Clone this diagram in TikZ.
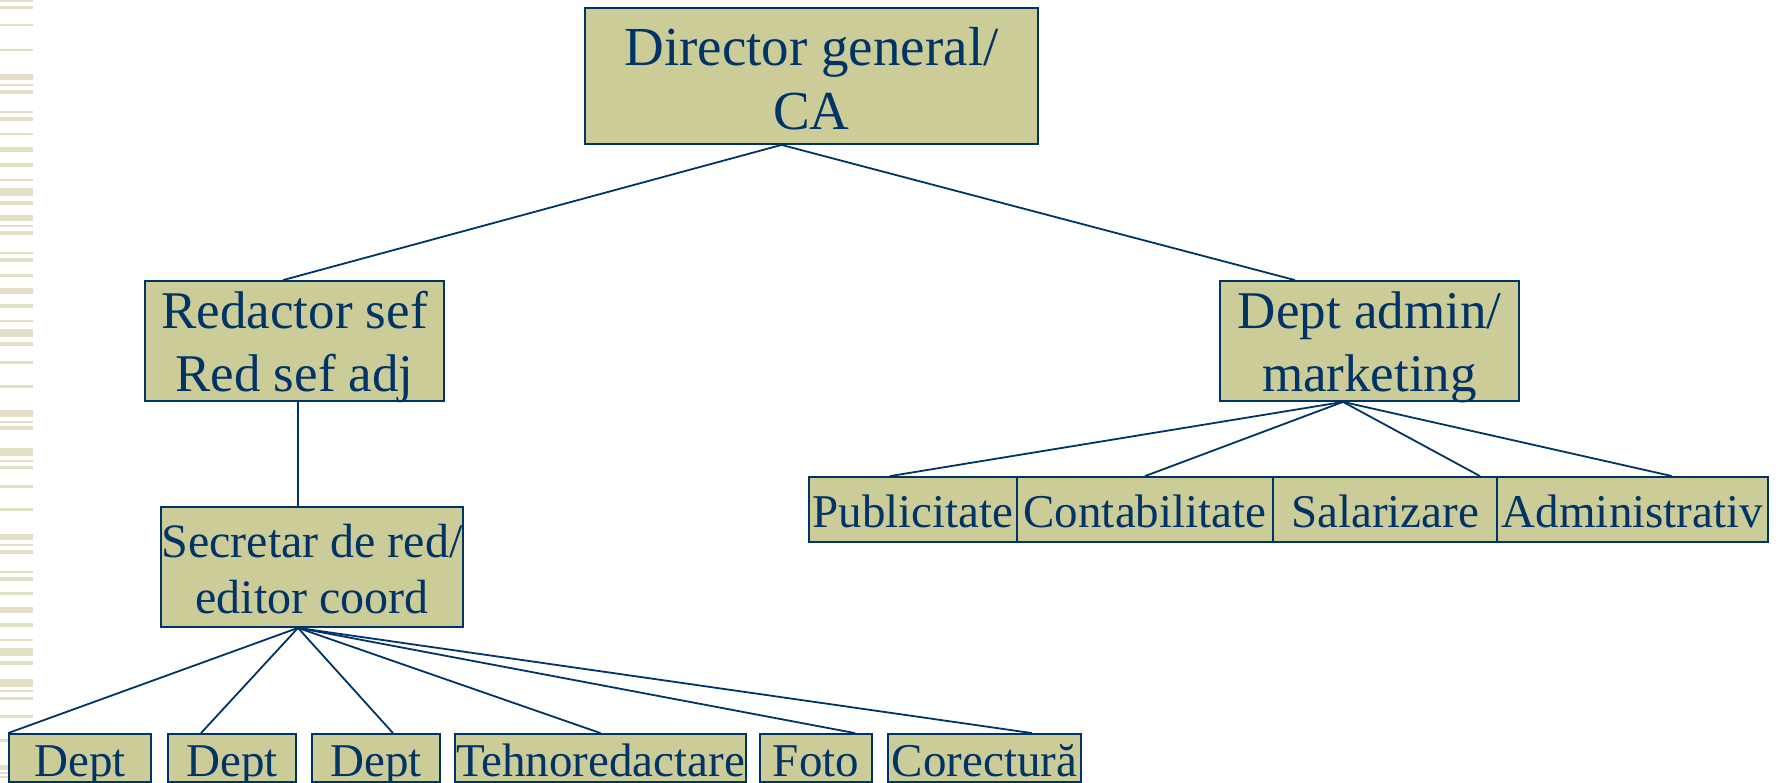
\documentclass[tikz,border=0pt]{standalone}
\usepackage{fontspec}
\setmainfont{Liberation Serif}
\definecolor{boxfill}{HTML}{CCCC99}
\definecolor{ink}{HTML}{003366}
\definecolor{stripe}{HTML}{E2E0C4}
\begin{document}
\begin{tikzpicture}[x=1pt,y=-1pt,
  box/.style={draw=ink, fill=boxfill, line width=1.8pt, inner sep=0pt, text=ink, align=center},
  rowbox/.style={box, minimum height=65pt, font=\fontsize{47}{56}\selectfont, text height=35pt, text depth=0pt},
  botbox/.style={box, minimum height=48pt, font=\fontsize{47}{56}\selectfont, text height=36pt, text depth=0pt},
  link/.style={draw=ink, line width=1.8pt},
]
\useasboundingbox (0,0) rectangle (1781,783);
\foreach \a/\b in {0/2, 6.3/9, 24/26.5, 49/51, 74/80, 84/86, 90/94, 111/113, 117/121, 133/135.5, 147/152.5, 163/167, 179/181, 188/196,
201/205, 215/221, 225/227, 231/235, 252/254, 258/262, 274/277, 288/294, 304/308, 320/322, 329/337, 342/346, 361/364, 385/388,
410/417, 421/423, 426/430, 448/456, 460/462.3, 466/469, 485/487.5, 508/511, 534/540, 544/546, 550/554, 571/573, 577/581, 592/595,
607/613, 623/627, 639/641, 648/656, 661/665, 679/687, 690/692, 697/700, 715/718, 739/742, 765/769.5, 772/773.5, 776/778}
  {\fill[stripe] (0,\a) rectangle (33,\b);}

\node[box, minimum width=453pt, minimum height=136pt, font=\fontsize{55}{64}\selectfont, text height=108pt, text depth=0pt] (dir) at (811.5,76) {Director general/\\CA};
\node[box, minimum width=299pt, minimum height=120pt, font=\fontsize{53}{63}\selectfont, text height=102pt, text depth=0pt] (red) at (294.5,341) {Redactor sef\\Red sef adj};
\node[box, minimum width=299pt, minimum height=120pt, font=\fontsize{53}{63}\selectfont, text height=101pt, text depth=0pt] (adm) at (1369.5,341) {Dept admin/\\marketing};
\node[box, minimum width=302pt, minimum height=120pt, font=\fontsize{48}{56}\selectfont, text height=92pt, text depth=0pt] (sec) at (312,567) {Secretar de red/\\editor coord};

\node[rowbox, minimum width=208pt] (pub) at (913,509.5) {Publicitate};
\node[rowbox, minimum width=256pt] (con) at (1145,509.5) {Contabilitate};
\node[rowbox, minimum width=224pt] (sal) at (1385,509.5) {Salarizare};
\node[rowbox, minimum width=271pt] (admv) at (1632.5,509.5) {Administrativ};

\node[botbox, minimum width=142pt] (d1) at (80,758) {Dept};
\node[botbox, minimum width=128pt] (d2) at (232,758) {Dept};
\node[botbox, minimum width=128pt] (d3) at (376,758) {Dept};
\node[botbox, minimum width=291pt] (teh) at (600.5,758) {Tehnoredactare};
\node[botbox, minimum width=112pt] (foto) at (816,758) {Foto};
\node[botbox, minimum width=193pt] (cor) at (984.5,758) {Corectură};

\draw[link] ([xshift=-11.5pt]red.north) -- ([xshift=-30pt]dir.south) -- ([xshift=-74.5pt]adm.north);
\draw[link] ([xshift=3.5pt]red.south) -- ([xshift=-14pt]sec.south |- sec.north);

\draw[link] ([xshift=-14pt]sec.south) -- (d1.north west);
\foreach \n/\s in {d2/-31, d3/17, teh/0, foto/39, cor/47.5}
  {\draw[link] ([xshift=-14pt]sec.south) -- ([xshift=\s pt]\n.north);}
\foreach \n/\s in {pub/-23, con/0, sal/95, admv/39.5}
  {\draw[link] ([xshift=-26.5pt]adm.south) -- ([xshift=\s pt]\n.north);}
\end{tikzpicture}
\end{document}
